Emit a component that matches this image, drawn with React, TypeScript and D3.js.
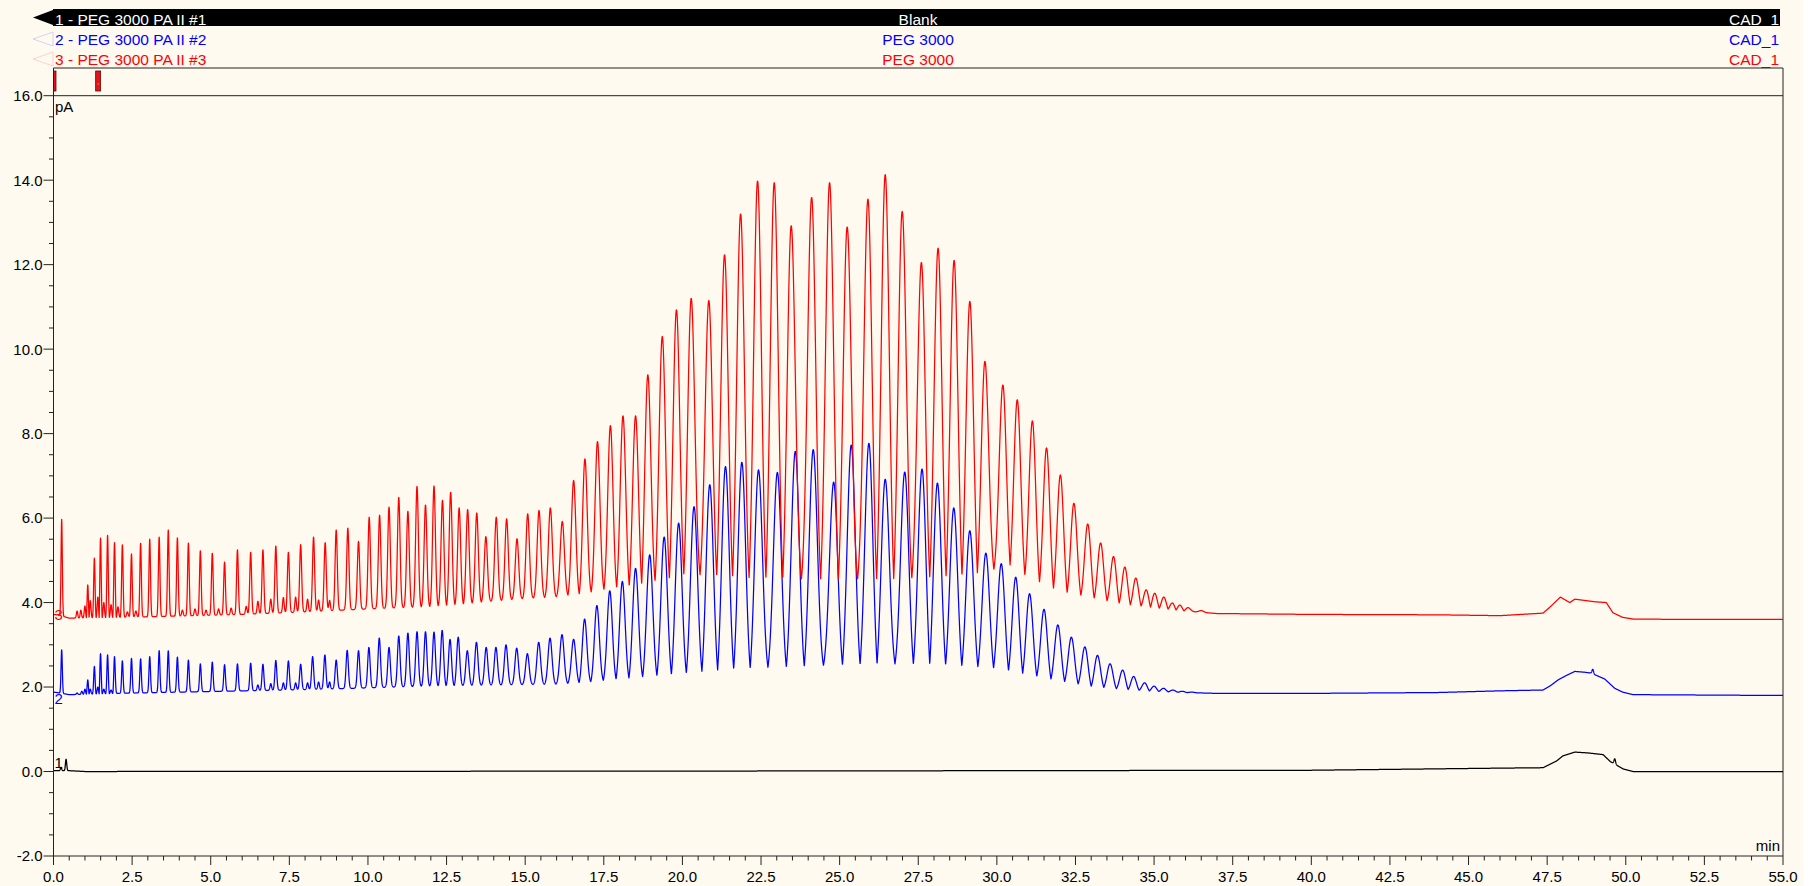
import React, { useMemo } from "react";
import * as d3 from "d3";

// ---------------- DATA ----------------
const X_TICKS = [0, 2.5, 5, 7.5, 10, 12.5, 15, 17.5, 20, 22.5, 25, 27.5, 30, 32.5, 35, 37.5, 40, 42.5, 45, 47.5, 50, 52.5, 55];
const X_TICK_LABELS = ["0.0", "2.5", "5.0", "7.5", "10.0", "12.5", "15.0", "17.5", "20.0", "22.5", "25.0", "27.5", "30.0", "32.5", "35.0", "37.5", "40.0", "42.5", "45.0", "47.5", "50.0", "52.5", "55.0"];
const Y_TICKS = [-2, 0, 2, 4, 6, 8, 10, 12, 14, 16];
const Y_TICK_LABELS = ["-2.0", "0.0", "2.0", "4.0", "6.0", "8.0", "10.0", "12.0", "14.0", "16.0"];

const HEADER_LEFT = ["1 - PEG 3000 PA II #1", "2 - PEG 3000 PA II #2", "3 - PEG 3000 PA II #3"];
const HEADER_MID = ["Blank", "PEG 3000", "PEG 3000"];
const HEADER_RIGHT = ["CAD_1", "CAD_1", "CAD_1"];
const TRACE_NAMES = ["1", "2", "3"];
const EVENT_TIMES = [0, 1.42];

// peak width (sigma, min) along the run
const SIG_T = [0, 3, 6, 9, 12, 15, 17, 19, 21, 24, 27, 29, 31, 33, 35, 37, 55];
const SIG_V = [0.02, 0.024, 0.028, 0.035, 0.045, 0.055, 0.075, 0.1, 0.12, 0.13, 0.13, 0.125, 0.11, 0.1, 0.085, 0.07, 0.07];

// Trace 3 (red)
const RED_PEAK_T = [0.26, 0.75, 0.87, 1.0, 1.09, 1.17, 1.3, 1.41, 1.495, 1.6, 1.72, 1.83, 1.94, 2.05, 2.19, 2.48, 2.77, 3.06, 3.36, 3.65, 3.94, 4.29, 4.67, 5.05, 5.44, 5.85, 6.27, 6.66, 7.07, 7.47, 7.86, 8.27, 8.64, 8.99, 9.36, 9.7, 10.04, 10.37, 10.67, 10.98, 11.27, 11.56, 11.83, 12.1, 12.37, 12.63, 12.9, 13.17, 13.46, 13.75, 14.08, 14.41, 14.74, 15.08, 15.44, 15.8, 16.18, 16.54, 16.9, 17.3, 17.71, 18.11, 18.51, 18.9, 19.36, 19.81, 20.28, 20.84, 21.34, 21.85, 22.39, 22.92, 23.46, 24.11, 24.68, 25.24, 25.9, 26.45, 26.99, 27.6, 28.13, 28.64, 29.14, 29.62, 30.19, 30.65, 31.13, 31.58, 32.02, 32.45, 32.89, 33.3, 33.71, 34.07, 34.42, 34.75, 35.02, 35.31, 35.58, 35.82, 36.08, 36.5];
const RED_PEAK_H = [5.97, 3.8, 3.82, 3.92, 4.42, 4.05, 5.05, 4.13, 5.53, 4.0, 5.59, 3.95, 5.42, 3.9, 5.37, 5.15, 5.41, 5.5, 5.55, 5.72, 5.53, 5.41, 5.23, 5.17, 4.96, 5.25, 5.19, 5.25, 5.34, 5.19, 5.37, 5.55, 5.42, 5.72, 5.76, 5.45, 6.02, 6.07, 6.26, 6.49, 6.16, 6.75, 6.31, 6.76, 6.42, 6.61, 6.24, 6.2, 6.12, 5.56, 6.02, 5.98, 5.51, 6.1, 6.18, 6.24, 5.92, 6.89, 7.4, 7.81, 8.19, 8.42, 8.42, 9.39, 10.3, 10.93, 11.2, 11.15, 12.23, 13.2, 13.98, 13.94, 12.92, 13.59, 13.94, 12.89, 13.55, 14.13, 13.26, 12.05, 12.39, 12.1, 11.13, 9.71, 9.15, 8.8, 8.3, 7.66, 7.02, 6.35, 5.86, 5.41, 5.09, 4.84, 4.58, 4.3, 4.22, 4.13, 3.99, 3.94, 3.88, 3.81];
const RED_BASE_T = [0, 0.2, 0.5, 1.0, 2, 4, 6, 8, 10, 12, 13, 14, 15, 16, 17, 17.7, 18.5, 19.6, 20.1, 22, 24, 26, 28, 29, 30, 30.4, 31, 32, 33, 34, 35, 36, 37, 40, 44, 46, 47.37, 47.6, 47.92, 48.22, 48.38, 48.7, 49.0, 49.38, 49.59, 49.9, 50.23, 52, 55];
const RED_BASE_V = [3.72, 3.7, 3.63, 3.64, 3.65, 3.68, 3.72, 3.78, 3.85, 3.91, 3.97, 4.04, 4.1, 4.14, 4.24, 4.34, 4.42, 4.58, 4.68, 4.6, 4.55, 4.55, 4.6, 4.65, 4.8, 4.9, 4.6, 4.28, 4.12, 3.97, 3.88, 3.8, 3.74, 3.72, 3.71, 3.69, 3.75, 3.9, 4.13, 4.0, 4.08, 4.05, 4.02, 4.0, 3.76, 3.65, 3.61, 3.6, 3.6];
const RED_MINOR_T = [2.35, 2.62, 4.1, 4.5, 4.85, 5.25, 5.65, 6.13, 6.5, 6.91, 7.31, 7.7, 8.08, 8.43, 8.78];
const RED_MINOR_H = [3.78, 3.8, 3.82, 3.85, 3.82, 3.85, 3.87, 3.91, 4.03, 4.08, 4.12, 4.13, 4.08, 4.06, 4.05];

// Trace 2 (blue)
const BLUE_PEAK_T = [0.26, 0.75, 0.9, 1.0, 1.09, 1.17, 1.3, 1.41, 1.495, 1.6, 1.72, 1.83, 1.94, 2.19, 2.48, 2.77, 3.06, 3.36, 3.65, 3.94, 4.29, 4.67, 5.05, 5.44, 5.85, 6.27, 6.66, 7.07, 7.47, 7.86, 8.24, 8.63, 8.99, 9.34, 9.7, 10.03, 10.36, 10.67, 10.98, 11.27, 11.56, 11.83, 12.1, 12.36, 12.61, 12.87, 13.16, 13.45, 13.76, 14.07, 14.39, 14.73, 15.07, 15.43, 15.79, 16.17, 16.54, 16.89, 17.28, 17.69, 18.09, 18.51, 18.96, 19.42, 19.88, 20.37, 20.87, 21.37, 21.89, 22.42, 23.02, 23.59, 24.16, 24.81, 25.37, 25.93, 26.45, 27.07, 27.62, 28.11, 28.63, 29.14, 29.65, 30.14, 30.6, 31.04, 31.5, 31.94, 32.37, 32.8, 33.2, 33.6, 34.0, 34.35, 34.7, 35.0, 35.3, 35.6, 35.9, 36.2];
const BLUE_PEAK_H = [2.88, 1.86, 1.9, 1.95, 2.17, 1.95, 2.49, 2.0, 2.79, 1.95, 2.76, 1.93, 2.72, 2.62, 2.68, 2.67, 2.72, 2.86, 2.86, 2.71, 2.64, 2.55, 2.59, 2.53, 2.55, 2.57, 2.54, 2.63, 2.62, 2.54, 2.72, 2.76, 2.64, 2.87, 2.86, 2.94, 3.16, 2.94, 3.21, 3.28, 3.31, 3.31, 3.3, 3.34, 3.13, 3.18, 2.86, 3.06, 2.94, 2.94, 3.0, 2.92, 2.79, 3.06, 3.16, 3.24, 3.13, 3.61, 3.93, 4.28, 4.5, 4.81, 5.13, 5.55, 5.88, 6.27, 6.79, 7.22, 7.32, 7.14, 7.08, 7.58, 7.62, 6.85, 7.73, 7.77, 6.92, 7.09, 7.16, 6.83, 6.24, 5.7, 5.17, 4.92, 4.6, 4.21, 3.84, 3.47, 3.18, 2.95, 2.75, 2.55, 2.4, 2.25, 2.1, 2.02, 1.97, 1.93, 1.9, 1.88];
const BLUE_BASE_T = [0, 0.2, 0.5, 1.0, 2, 4, 6, 8, 10, 12, 14, 16, 17, 18, 19, 20, 21, 22, 24, 26, 28, 29, 30, 31, 32, 33, 34, 35, 36, 37, 40, 44, 46, 47.37, 47.6, 47.85, 48.1, 48.38, 48.7, 48.9, 49.33, 49.65, 49.9, 50.23, 55];
const BLUE_BASE_V = [1.88, 1.86, 1.82, 1.83, 1.85, 1.88, 1.91, 1.94, 1.98, 2.03, 2.05, 2.07, 2.12, 2.2, 2.26, 2.33, 2.4, 2.45, 2.5, 2.55, 2.55, 2.5, 2.45, 2.3, 2.15, 2.02, 1.95, 1.9, 1.87, 1.85, 1.85, 1.87, 1.91, 1.93, 2.03, 2.17, 2.27, 2.37, 2.35, 2.33, 2.19, 1.97, 1.88, 1.82, 1.8];
const BLUE_MINOR_T = [6.5, 6.91, 7.31, 7.7, 8.08, 8.43, 8.78, 48.95];
const BLUE_MINOR_H = [2.05, 2.08, 2.1, 2.1, 2.1, 2.12, 2.12, 2.42];

// Trace 1 (black, blank)
const BLACK_PEAK_T = [0.24, 0.4];
const BLACK_PEAK_H = [0.1, 0.29];
const BLACK_BASE_T = [0, 0.5, 1, 20, 40, 46, 47.37, 47.8, 48.0, 48.38, 48.8, 49.28, 49.5, 49.92, 50.23, 55];
const BLACK_BASE_V = [0.02, 0.02, 0.0, 0.01, 0.03, 0.08, 0.09, 0.25, 0.37, 0.46, 0.44, 0.4, 0.24, 0.06, 0.0, 0.0];
const BLACK_MINOR_T = [49.65];
const BLACK_MINOR_H = [0.3];

// ---------------- LAYOUT ----------------
const W = 1815;
const H = 886;
const LEFT = 53.5;
const RIGHT = 1783;
const BOX_TOP = 68;
const Y_TOP = 95.7;
const BOTTOM = 856;
const CREAM = "#FFFAF0";
const AXIS = "#222";
const FONT = "'Liberation Sans', Arial, Helvetica, sans-serif";
const COLORS = ["#000000", "#0000FF", "#FF0000"];
const DT = 0.004;

function interp(ts: number[], vs: number[], t: number) {
  const i = d3.bisectRight(ts, t);
  if (i <= 0) return vs[0];
  if (i >= ts.length) return vs[vs.length - 1];
  const t0 = ts[i - 1], t1 = ts[i];
  return vs[i - 1] + ((vs[i] - vs[i - 1]) * (t - t0)) / (t1 - t0);
}

function makeTrace(pT: number[], pH: number[], bT: number[], bV: number[], mT: number[], mH: number[]) {
  const base = (t: number) => interp(bT, bV, t);
  const amps = pT.map((t, i) => pH[i] - base(t));
  const mAmps = mT.map((t, i) => mH[i] - base(t));
  const pts: [number, number][] = [];
  const n = Math.round(55 / DT);
  for (let k = 0; k <= n; k++) {
    const t = k * DT;
    let v = base(t);
    if (pT.length) {
      const j = d3.bisectLeft(pT, t);
      let p = j;
      if (j >= pT.length) p = pT.length - 1;
      else if (j > 0 && t - pT[j - 1] < pT[j] - t) p = j - 1;
      const tc = pT[p];
      const s = interp(SIG_T, SIG_V, tc);
      const dx = t - tc;
      let w = dx < 0 ? (p > 0 ? (tc - pT[p - 1]) / 2 : 6 * s) : p < pT.length - 1 ? (pT[p + 1] - tc) / 2 : 6 * s;
      w = Math.min(w, 6 * s);
      if (Math.abs(dx) < w) {
        const eb = Math.exp((-w * w) / (2 * s * s));
        const g = (Math.exp((-dx * dx) / (2 * s * s)) - eb) / (1 - eb);
        v += amps[p] * g;
      }
    }
    for (let m = 0; m < mT.length; m++) {
      const dx = t - mT[m];
      const s = 0.025;
      if (Math.abs(dx) < 6 * s) v += mAmps[m] * Math.exp((-dx * dx) / (2 * s * s));
    }
    pts.push([t, v]);
  }
  return pts;
}

export default function App() {
  const x = d3.scaleLinear().domain([0, 55]).range([LEFT, RIGHT]);
  const y = d3.scaleLinear().domain([-2, 16]).range([BOTTOM, Y_TOP]);

  const traces = useMemo(
    () => [
      makeTrace(BLACK_PEAK_T, BLACK_PEAK_H, BLACK_BASE_T, BLACK_BASE_V, BLACK_MINOR_T, BLACK_MINOR_H),
      makeTrace(BLUE_PEAK_T, BLUE_PEAK_H, BLUE_BASE_T, BLUE_BASE_V, BLUE_MINOR_T, BLUE_MINOR_H),
      makeTrace(RED_PEAK_T, RED_PEAK_H, RED_BASE_T, RED_BASE_V, RED_MINOR_T, RED_MINOR_H),
    ],
    []
  );

  const line = d3
    .line<[number, number]>()
    .x((d) => x(d[0]))
    .y((d) => y(d[1]));

  const yMinor = d3.range(-2, 16.001, 0.5).filter((v) => Math.abs(v / 2 - Math.round(v / 2)) > 1e-6);
  const xMinor = d3.range(0, 55.001, 0.5).filter((v) => Math.abs(v / 2.5 - Math.round(v / 2.5)) > 1e-6);

  const rowBase = [25, 45, 65];
  const traceLabelY = [768, 704, 620];

  return (
    <div style={{ position: "fixed", left: 0, top: 0 }}>
      <svg width={W} height={H} style={{ display: "block" }} fontFamily={FONT}>
        <defs>
          <clipPath id="plotClip">
            <rect x={LEFT} y={BOX_TOP} width={RIGHT - LEFT} height={BOTTOM - BOX_TOP} />
          </clipPath>
        </defs>
        <rect x={0} y={0} width={W} height={H} fill="#ffffff" />
        <rect x={0} y={0} width={1803} height={H} fill={CREAM} />

        {/* header */}
        <rect x={53} y={9} width={1780 - 53} height={17} fill="#000" />
        <polygon points="33,17.5 53,10 53,25" fill="#000" />
        <polygon points="33,39 53,32 53,46" fill="none" stroke="#c8c8f4" strokeWidth={0.8} />
        <polygon points="33,59 53,52 53,66" fill="none" stroke="#f6c8c8" strokeWidth={0.8} />
        {HEADER_LEFT.map((s, i) => (
          <text key={"hl" + i} x={55} y={rowBase[i]} fontSize={15.5} fill={i === 0 ? "#fff" : COLORS[i]}>
            {s}
          </text>
        ))}
        {HEADER_MID.map((s, i) => (
          <text key={"hm" + i} x={(53 + 1783) / 2} y={rowBase[i]} fontSize={15.5} textAnchor="middle" fill={i === 0 ? "#fff" : COLORS[i]}>
            {s}
          </text>
        ))}
        {HEADER_RIGHT.map((s, i) => (
          <text key={"hr" + i} x={1779} y={rowBase[i]} fontSize={15.5} textAnchor="end" fill={i === 0 ? "#fff" : COLORS[i]}>
            {s}
          </text>
        ))}

        {/* plot frame */}
        <line x1={LEFT} x2={RIGHT} y1={BOX_TOP} y2={BOX_TOP} stroke={AXIS} strokeWidth={1} />
        <line x1={RIGHT} x2={RIGHT} y1={BOX_TOP} y2={BOTTOM} stroke={AXIS} strokeWidth={1} />
        <line x1={LEFT} x2={RIGHT} y1={y(16)} y2={y(16)} stroke={AXIS} strokeWidth={1} />

        {/* event markers */}
        <g clipPath="url(#plotClip)">
          {EVENT_TIMES.map((t, i) => (
            <g key={"ev" + i}>
              <rect x={x(t) - 2.5} y={71} width={5} height={20} fill="#e8101a" stroke="#501010" strokeWidth={0.8} />
              <rect x={x(t) - 0.5} y={83.5} width={1} height={1} fill="#ffe800" />
            </g>
          ))}
        </g>

        {/* traces */}
        <g clipPath="url(#plotClip)" fill="none" strokeLinejoin="round">
          {traces.map((pts, i) => (
            <path key={"tr" + i} d={line(pts) || ""} stroke={COLORS[i]} strokeWidth={1.25} />
          ))}
        </g>

        {/* trace labels */}
        {TRACE_NAMES.map((s, i) => (
          <text key={"tn" + i} x={54.5} y={traceLabelY[i]} fontSize={15} fill={COLORS[i]}>
            {s}
          </text>
        ))}

        <text x={55} y={111.5} fontSize={15} fill="#000">
          pA
        </text>
        <text x={1780} y={851} fontSize={15} textAnchor="end" fill="#000">
          min
        </text>

        {/* y axis */}
        <line x1={LEFT} x2={LEFT} y1={BOX_TOP} y2={BOTTOM} stroke={AXIS} strokeWidth={1} />
        {Y_TICKS.map((v, i) => (
          <g key={"yt" + i}>
            <line x1={LEFT - 10} x2={LEFT} y1={y(v)} y2={y(v)} stroke={AXIS} strokeWidth={1} />
            <text x={LEFT - 11} y={y(v)} dy="0.36em" fontSize={15} textAnchor="end" fill="#000">
              {Y_TICK_LABELS[i]}
            </text>
          </g>
        ))}
        {yMinor.map((v, i) => (
          <line key={"ym" + i} x1={LEFT - 4.5} x2={LEFT} y1={y(v)} y2={y(v)} stroke={AXIS} strokeWidth={1} />
        ))}

        {/* x axis */}
        <line x1={LEFT} x2={RIGHT} y1={BOTTOM} y2={BOTTOM} stroke={AXIS} strokeWidth={1} />
        {X_TICKS.map((v, i) => (
          <g key={"xt" + i}>
            <line x1={x(v)} x2={x(v)} y1={BOTTOM} y2={BOTTOM + 9} stroke={AXIS} strokeWidth={1} />
            <text x={x(v)} y={882} fontSize={15} textAnchor="middle" fill="#000">
              {X_TICK_LABELS[i]}
            </text>
          </g>
        ))}
        {xMinor.map((v, i) => (
          <line key={"xm" + i} x1={x(v)} x2={x(v)} y1={BOTTOM} y2={BOTTOM + 4.5} stroke={AXIS} strokeWidth={1} />
        ))}
      </svg>
    </div>
  );
}
